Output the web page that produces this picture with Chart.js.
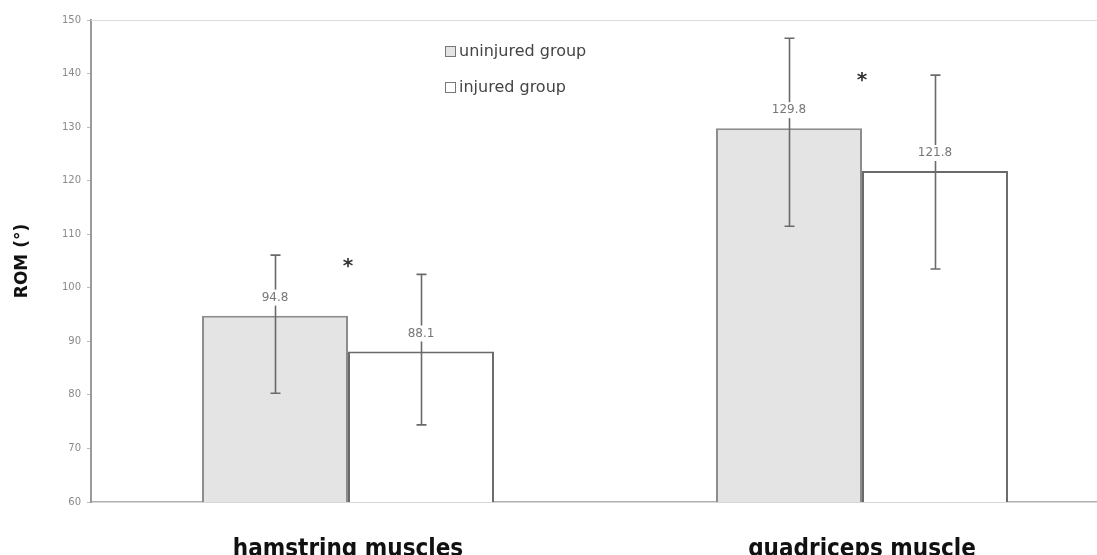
<!DOCTYPE html>
<html>
<head>
<meta charset="utf-8">
<script src="https://cdn.jsdelivr.net/npm/chart.js@4/dist/chart.umd.min.js"></script>
<style>
html,body{margin:0;padding:0;background:#fff;overflow:hidden;}
#wrap{width:1119px;height:555px;position:relative;}
</style>
</head>
<body>
<div id="wrap"><canvas id="c"></canvas></div>
<script>
const categories = ['hamstring muscles', 'quadriceps muscle'];
const seriesNames = ['uninjured group', 'injured group'];
const uninjured = [94.8, 129.8];
const injured = [88.1, 121.8];
const uninjuredHigh = [106.1, 146.6];
const uninjuredLow = [80.3, 111.5];
const injuredHigh = [102.5, 139.7];
const injuredLow = [74.4, 103.5];
const valueLabels = [['94.8', '129.8'], ['88.1', '121.8']];
const sigMarkY = [104.8, 139.5];
const yTicks = [60, 70, 80, 90, 100, 110, 120, 130, 140, 150];

const errHigh = [uninjuredHigh, injuredHigh];
const errLow = [uninjuredLow, injuredLow];

const extras = {
  id: 'extras',
  afterDatasetsDraw(chart) {
    const ctx = chart.ctx;
    const y = chart.scales.y;
    const area = chart.chartArea;
    ctx.save();
    // top border line
    ctx.strokeStyle = '#dcdcdc';
    ctx.lineWidth = 1;
    ctx.beginPath();
    ctx.moveTo(area.left, y.getPixelForValue(150) + 0.5);
    ctx.lineTo(area.right, y.getPixelForValue(150) + 0.5);
    ctx.stroke();
    // error bars
    chart.data.datasets.forEach((ds, i) => {
      const meta = chart.getDatasetMeta(i);
      meta.data.forEach((el, j) => {
        const x = Math.round(el.x) + 0.5;
        const yt = y.getPixelForValue(errHigh[i][j]);
        const yb = y.getPixelForValue(errLow[i][j]);
        ctx.strokeStyle = '#6a6a6a';
        ctx.lineWidth = 1.6;
        ctx.beginPath();
        ctx.moveTo(x, yt); ctx.lineTo(x, yb);
        ctx.moveTo(x - 5, yt); ctx.lineTo(x + 5, yt);
        ctx.moveTo(x - 5, yb); ctx.lineTo(x + 5, yb);
        ctx.stroke();
      });
    });
    // value labels
    ctx.font = '12px "DejaVu Sans", sans-serif';
    ctx.textAlign = 'center';
    ctx.textBaseline = 'middle';
    chart.data.datasets.forEach((ds, i) => {
      const meta = chart.getDatasetMeta(i);
      meta.data.forEach((el, j) => {
        const t = valueLabels[i][j];
        const ty = el.y - 18;
        const w = ctx.measureText(t).width + 6;
        ctx.fillStyle = '#ffffff';
        ctx.fillRect(el.x - w / 2, ty - 8, w, 16);
        ctx.fillStyle = '#777777';
        ctx.fillText(t, el.x, ty);
      });
    });
    // significance marks
    const xs = chart.scales.x;
    ctx.font = 'bold 20px "DejaVu Sans", sans-serif';
    ctx.fillStyle = '#333333';
    sigMarkY.forEach((v, j) => {
      ctx.fillText('*', xs.getPixelForValue(j), y.getPixelForValue(v) + 5);
    });
    // legend
    ctx.textAlign = 'left';
    ctx.font = '16px "DejaVu Sans", sans-serif';
    const fills = ['#e4e4e4', '#ffffff'];
    const rows = [51, 87];
    seriesNames.forEach((n, i) => {
      ctx.fillStyle = fills[i];
      ctx.fillRect(445, rows[i] - 5, 10, 10);
      ctx.strokeStyle = '#777';
      ctx.lineWidth = 1;
      ctx.strokeRect(445.5, rows[i] - 4.5, 10, 10);
      ctx.fillStyle = '#444444';
      ctx.fillText(n, 459, rows[i] + 1);
    });
    ctx.restore();
  }
};

new Chart(document.getElementById('c'), {
  type: 'bar',
  data: {
    labels: categories,
    datasets: [
      { label: seriesNames[0], data: uninjured, backgroundColor: '#e4e4e4', borderColor: '#8c8c8c', borderWidth: 2, borderSkipped: 'bottom' },
      { label: seriesNames[1], data: injured, backgroundColor: '#ffffff', borderColor: '#6a6a6a', borderWidth: 2, borderSkipped: 'bottom' }
    ]
  },
  options: {
    responsive: true,
    maintainAspectRatio: false,
    animation: false,
    layout: { padding: { top: 20, right: 0, left: 12, bottom: 0 } },
    plugins: { legend: { display: false }, tooltip: { enabled: false } },
    datasets: { bar: { barPercentage: 1.0, categoryPercentage: 0.568 } },
    scales: {
      x: {
        grid: { display: false },
        border: { display: true, color: '#b0b0b0', width: 1.5 },
        ticks: {
          color: '#111111',
          padding: 25,
          font: { family: '"DejaVu Sans Condensed", "Liberation Sans Narrow", sans-serif', size: 24, weight: 'bold' }
        },
        afterFit(s) { s.height = 53; }
      },
      y: {
        min: 60, max: 150,
        afterBuildTicks(s) { s.ticks = yTicks.map(v => ({ value: v })); },
        grid: { drawOnChartArea: false, drawTicks: true, tickLength: 4, color: '#bbbbbb' },
        border: { display: true, color: '#9a9a9a', width: 2 },
        ticks: { color: '#8a8a8a', padding: 6, font: { family: '"DejaVu Sans", sans-serif', size: 10 } },
        title: { display: true, text: 'ROM (°)', color: '#111111', padding: { top: 0, bottom: 8 }, font: { family: '"DejaVu Sans", sans-serif', size: 17, weight: 'bold' } },
        afterFit(s) { s.width = 79; }
      }
    }
  },
  plugins: [extras]
});
</script>
</body>
</html>
